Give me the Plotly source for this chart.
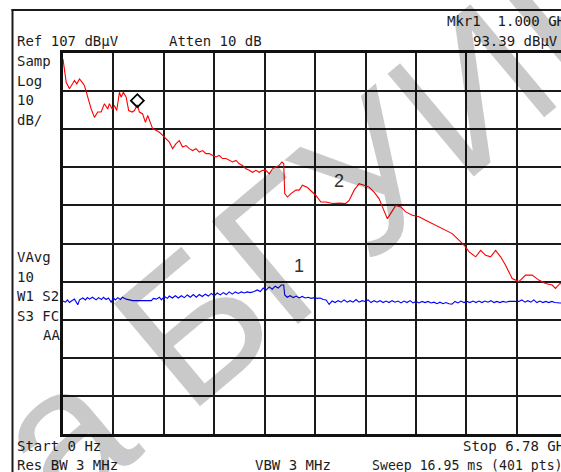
import plotly.graph_objects as go

START_GHZ, STOP_GHZ = 0.0, 6.78
REF_DBUV, DB_PER_DIV, N_DIV = 107.0, 10.0, 10

MKR_FREQ_GHZ = 1.000
MKR_LEVEL_DBUV = 93.39
MKR_GLYPH_OFFSET_DB = 1.1   # analyzer draws the diamond just above the point

# trace 2 (red, sample detector)
red_f = [0.0, 0.043, 0.087, 0.124, 0.154, 0.185, 0.222, 0.258, 0.289, 0.333,
         0.379, 0.423, 0.467, 0.513, 0.557, 0.601, 0.624, 0.661, 0.691, 0.722,
         0.759, 0.781, 0.812, 0.849, 0.883, 0.929, 0.960, 1.000, 1.027, 1.071,
         1.108, 1.139, 1.171, 1.206, 1.251, 1.296, 1.340, 1.386, 1.430, 1.474,
         1.520, 1.564, 1.608, 1.654, 1.698, 1.743, 1.788, 1.833, 1.877, 1.923,
         1.967, 2.011, 2.057, 2.101, 2.145, 2.191, 2.235, 2.280, 2.325, 2.370,
         2.414, 2.460, 2.504, 2.548, 2.594, 2.638, 2.683, 2.728, 2.773, 2.817,
         2.862, 2.907, 2.943, 2.967, 2.981, 3.018, 3.064, 3.131, 3.175, 3.220,
         3.287, 3.354, 3.400, 3.467, 3.534, 3.622, 3.712, 3.802, 3.847, 3.914,
         3.981, 4.048, 4.115, 4.182, 4.249, 4.294, 4.361, 4.406, 4.474, 4.541,
         4.608, 4.697, 4.786, 4.876, 4.965, 5.055, 5.145, 5.233, 5.323, 5.391,
         5.460, 5.548, 5.615, 5.682, 5.749, 5.816, 5.883, 5.950, 6.039, 6.129,
         6.219, 6.307, 6.397, 6.487, 6.576, 6.622, 6.680, 6.780]
red_db = [105.4, 99.3, 97.6, 98.9, 99.8, 98.9, 100.2, 99.3, 98.4, 95.4,
          92.3, 90.1, 91.5, 91.5, 93.7, 92.3, 93.7, 92.3, 93.2, 91.9,
          96.7, 95.4, 96.7, 95.4, 91.9, 91.5, 91.9, 93.4, 91.5, 91.0,
          88.8, 90.6, 88.8, 87.1, 86.7, 86.2, 85.4, 84.5, 83.6, 81.9,
          83.2, 84.0, 82.3, 82.7, 81.9, 81.4, 81.9, 81.0, 81.4, 80.6,
          80.6, 80.1, 79.7, 80.1, 79.3, 79.3, 78.8, 78.4, 78.8, 77.9,
          77.5, 76.6, 76.2, 75.7, 76.2, 75.7, 76.2, 76.2, 75.3, 76.6,
          77.1, 77.5, 78.4, 78.0, 70.1, 69.2, 70.1, 71.0, 71.0, 72.3,
          71.7, 70.5, 69.6, 67.9, 67.9, 67.5, 67.6, 67.5, 68.3, 71.0,
          72.7, 72.3, 71.8, 70.5, 68.8, 66.6, 63.5, 64.9, 67.0, 66.6,
          65.3, 64.4, 64.0, 63.1, 62.2, 61.3, 60.5, 59.6, 57.9, 56.6,
          54.8, 53.5, 55.2, 53.9, 53.5, 55.2, 53.5, 51.3, 47.8, 47.0,
          48.7, 48.7, 47.4, 46.5, 46.1, 45.2, 46.5, 46.0]

# trace 1 (blue, video average)
blue_f = [0.0, 0.034, 0.060, 0.087, 0.114, 0.154, 0.199, 0.222, 0.266, 0.302,
          0.329, 0.356, 0.396, 0.446, 0.477, 0.517, 0.544, 0.580, 0.611, 0.647,
          0.678, 0.705, 0.736, 0.772, 0.799, 0.849, 0.893, 0.933, 1.027, 1.117,
          1.188, 1.215, 1.255, 1.296, 1.322, 1.363, 1.403, 1.430, 1.470, 1.510,
          1.551, 1.591, 1.631, 1.672, 1.712, 1.752, 1.792, 1.833, 1.873, 1.913,
          1.954, 1.994, 2.034, 2.074, 2.115, 2.155, 2.195, 2.235, 2.276, 2.316,
          2.356, 2.397, 2.437, 2.477, 2.517, 2.571, 2.611, 2.652, 2.692, 2.732,
          2.773, 2.813, 2.853, 2.893, 2.934, 2.967, 2.981, 3.014, 3.054, 3.095,
          3.135, 3.175, 3.216, 3.256, 3.296, 3.336, 3.377, 3.417, 3.457, 3.497,
          3.538, 3.578, 3.618, 3.659, 3.699, 3.739, 3.779, 3.820, 3.860, 3.900,
          3.940, 3.981, 4.021, 4.061, 4.102, 4.142, 4.182, 4.222, 4.263, 4.303,
          4.343, 4.384, 4.424, 4.464, 4.504, 4.545, 4.585, 4.625, 4.666, 4.706,
          4.746, 4.786, 4.827, 4.867, 4.907, 4.948, 4.988, 5.028, 5.068, 5.109,
          5.149, 5.189, 5.229, 5.270, 5.310, 5.350, 5.391, 5.431, 5.471, 5.511,
          5.552, 5.592, 5.632, 5.672, 5.713, 5.753, 5.793, 5.833, 5.874, 5.914,
          5.954, 5.995, 6.062, 6.129, 6.169, 6.210, 6.250, 6.290, 6.330, 6.371,
          6.411, 6.451, 6.491, 6.532, 6.572, 6.612, 6.680, 6.780]
blue_db = [41.9, 41.6, 42.2, 41.5, 41.9, 42.4, 40.9, 42.2, 42.7, 42.2,
           42.8, 42.4, 42.9, 42.2, 42.8, 42.3, 42.9, 42.3, 42.7, 41.6,
           42.7, 42.2, 42.8, 42.3, 42.9, 42.4, 42.2, 42.0, 42.0, 42.0,
           42.0, 42.6, 42.4, 42.9, 42.2, 43.1, 42.6, 43.2, 42.7, 43.3,
           42.7, 43.3, 42.8, 43.5, 42.9, 43.6, 42.9, 43.6, 43.1, 43.7,
           43.2, 43.9, 43.3, 44.0, 43.5, 44.1, 43.6, 44.3, 43.7, 44.3,
           43.9, 44.3, 44.0, 44.3, 44.1, 44.4, 44.8, 44.4, 45.3, 44.8,
           45.6, 45.0, 45.8, 45.3, 46.1, 46.1, 43.5, 42.9, 43.3, 42.8,
           43.2, 42.7, 43.1, 42.7, 42.9, 42.6, 42.8, 42.6, 42.7, 42.3,
           42.2, 41.0, 41.9, 41.5, 42.0, 41.6, 42.2, 41.6, 42.0, 41.6,
           42.3, 41.6, 42.0, 41.8, 42.2, 41.5, 42.0, 41.6, 42.0, 41.5,
           41.9, 41.5, 42.0, 41.6, 41.9, 41.4, 41.9, 41.5, 42.0, 41.4,
           41.8, 41.4, 41.8, 41.5, 41.8, 41.4, 41.6, 41.2, 41.6, 41.2,
           41.5, 41.2, 41.1, 41.8, 41.4, 41.9, 41.5, 41.8, 41.5, 41.9,
           41.5, 41.9, 41.5, 41.9, 41.6, 42.0, 41.5, 41.8, 41.5, 41.8,
           41.6, 41.8, 41.8, 41.8, 42.2, 41.6, 42.0, 41.6, 42.2, 41.5,
           41.9, 41.5, 41.8, 41.5, 41.8, 41.5, 41.4, 41.4]

trace_labels = ["1", "2"]
trace_label_pos = [(3.17, 51.2), (3.71, 73.4)]   # (GHz, dBuV) where the analyzer prints the trace numbers

# ---------------- layout geometry ----------------
W, H = 561, 472
L, R, T, B = 63, 0, 53, 38
PW, PH = W - L - R, H - T - B
GRID_PX = 504.3                       # full 10-division graticule width (right edge is cropped)
x_end = START_GHZ + (STOP_GHZ - START_GHZ) * PW / GRID_PX
bottom = REF_DBUV - DB_PER_DIV * N_DIV


def px(x):
    return (x - L) / PW


def py(y):
    return 1 - (y - T) / PH


MONO = "DejaVu Sans Mono"
TXT = "#1c1c1c"

fig = go.Figure()
fig.add_trace(go.Scatter(x=blue_f, y=blue_db, mode="lines",
                         line=dict(color="#0000ff", width=1.1), hoverinfo="skip"))
fig.add_trace(go.Scatter(x=red_f, y=red_db, mode="lines",
                         line=dict(color="#ff0000", width=1.1), hoverinfo="skip"))
fig.add_trace(go.Scatter(x=[MKR_FREQ_GHZ], y=[MKR_LEVEL_DBUV + MKR_GLYPH_OFFSET_DB],
                         mode="markers",
                         marker=dict(symbol="diamond-open", size=10, color="#000000",
                                     line=dict(width=1.8, color="#000000")),
                         hoverinfo="skip"))

annotations = []


def txt(s, x, y, anchor="left", size=14, font=MONO, color=TXT):
    annotations.append(dict(text=s, x=px(x), y=py(y), xref="paper", yref="paper",
                            xanchor=anchor, yanchor="middle", showarrow=False,
                            font=dict(family=font, size=size, color=color)))


# header
txt("Ref 107 dBµV", 15, 41)
txt("Atten 10 dB", 167, 41)
txt("Mkr1  1.000 GHz", 445, 21)
txt(f"{MKR_LEVEL_DBUV:.2f} dBµV", 560, 41, anchor="right")
# left side annotations
for s, y in [("Samp", 61), ("Log", 80.5), ("10", 100), ("dB/", 119.5),
             ("VAvg", 257), ("10", 276.5), ("W1 S2", 296), ("S3 FC", 315.5)]:
    txt(s, 15, y)
txt("AA", 40.5, 335)
# footer
txt("Start 0 Hz", 15, 446)
txt("Stop 6.78 GHz", 461, 446)
txt("Res BW 3 MHz", 15, 465)
txt("VBW 3 MHz", 253, 465)
txt("Sweep 16.95 ms (401 pts)", 370, 465, size=13.2)

# trace number labels (data coordinates)
for lab, (fx, fy) in zip(trace_labels, trace_label_pos):
    annotations.append(dict(text=lab, x=fx, y=fy, xref="x", yref="y", showarrow=False,
                            xanchor="center", yanchor="middle",
                            font=dict(family="Liberation Sans", size=18, color="#333333")))

# watermark
annotations.append(dict(text="а БГУИР", x=px(322), y=py(215), xref="paper", yref="paper",
                        xanchor="center", yanchor="middle", showarrow=False, textangle=-40,
                        font=dict(family="Liberation Sans", size=195, color="rgba(0,0,0,0.21)")))

shapes = [
    dict(type="line", xref="paper", yref="paper", x0=px(11.5), x1=px(570), y0=py(10), y1=py(10),
         line=dict(color="#1a1a1a", width=2)),
    dict(type="line", xref="paper", yref="paper", x0=px(12.5), x1=px(12.5), y0=py(9), y1=py(480),
         line=dict(color="#1a1a1a", width=2)),
]

fig.update_layout(
    width=W, height=H, margin=dict(l=L, r=R, t=T, b=B, pad=0),
    paper_bgcolor="white", plot_bgcolor="white", showlegend=False,
    annotations=annotations, shapes=shapes,
    xaxis=dict(range=[START_GHZ, x_end], tick0=START_GHZ, dtick=(STOP_GHZ - START_GHZ) / N_DIV,
               showgrid=True, gridcolor="#1a1a1a", gridwidth=1.5, zeroline=False,
               showline=True, linecolor="#111111", linewidth=3, mirror=True,
               showticklabels=False, ticks="", fixedrange=True),
    yaxis=dict(range=[bottom, REF_DBUV], tick0=bottom, dtick=DB_PER_DIV,
               showgrid=True, gridcolor="#1a1a1a", gridwidth=1.5, zeroline=False,
               showline=True, linecolor="#111111", linewidth=3, mirror=False,
               showticklabels=False, ticks="", fixedrange=True),
)

fig.write_html("out.html", config={"displayModeBar": False},
               post_script="document.body.style.margin='0';document.body.style.overflow='hidden';")
